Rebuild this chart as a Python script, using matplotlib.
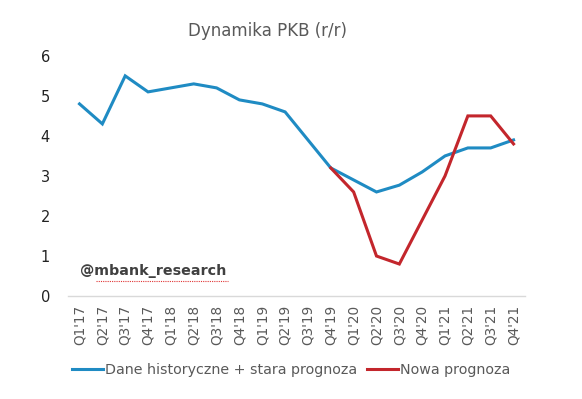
import numpy as np
import matplotlib.pyplot as plt

quarters = ["Q1'17", "Q2'17", "Q3'17", "Q4'17", "Q1'18", "Q2'18", "Q3'18", "Q4'18",
            "Q1'19", "Q2'19", "Q3'19", "Q4'19", "Q1'20", "Q2'20", "Q3'20", "Q4'20",
            "Q1'21", "Q2'21", "Q3'21", "Q4'21"]
historical = [4.8, 4.3, 5.5, 5.1, 5.2, 5.3, 5.2, 4.9, 4.8, 4.6, 3.9, 3.2,
              2.9, 2.6, 2.77, 3.1, 3.5, 3.7, 3.7, 3.9]
new_start = 11
new_forecast = [3.2, 2.6, 1.0, 0.8, 1.9, 3.0, 4.5, 4.5, 3.8]

blue = '#1f8bc3'
red = '#c3262c'
grey = '#595959'

fig = plt.figure(figsize=(5.82, 3.99), dpi=100)
ax = fig.add_axes([0.117, 0.258, 0.785, 0.602])

x = np.arange(len(quarters))
ax.plot(x, historical, color=blue, lw=2.2, label='Dane historyczne + stara prognoza',
        solid_joinstyle='miter')
ax.plot(x[new_start:new_start + len(new_forecast)], new_forecast, color=red, lw=2.2,
        label='Nowa prognoza', solid_joinstyle='miter')

ax.set_xlim(-0.5, len(quarters) - 0.5)
ax.set_ylim(0, 6)
ax.set_yticks(range(0, 7))
ax.set_xticks(x)
ax.set_xticklabels(quarters, rotation=90, fontsize=9.8, color=grey)
ax.tick_params(axis='y', labelsize=10.5, colors='#222222', length=0, pad=13)
ax.tick_params(axis='x', length=0, pad=6)

for s in ['top', 'right', 'left']:
    ax.spines[s].set_visible(False)
ax.spines['bottom'].set_color('#d9d9d9')
ax.spines['bottom'].set_linewidth(1.0)

fig.text(0.459, 0.922, 'Dynamika PKB (r/r)', fontsize=12, color=grey, ha='center', va='center')

# watermark with the spell-check underline seen in the source
ax.text(0.0, 0.45, '@mbank_research', fontsize=10.3, fontweight='bold', color='#404040',
        va='bottom')
ax.plot([0.7, 6.5], [0.37, 0.37], color='#e03535', lw=0.8, ls=(0, (1, 1)))

fig.legend(loc='center', bbox_to_anchor=(0.5, 0.072), ncol=2, frameon=False,
           fontsize=10.3, handlelength=2.2, handletextpad=0.1, columnspacing=0.7,
           labelcolor=grey)

fig.savefig('out.png', dpi=100)
